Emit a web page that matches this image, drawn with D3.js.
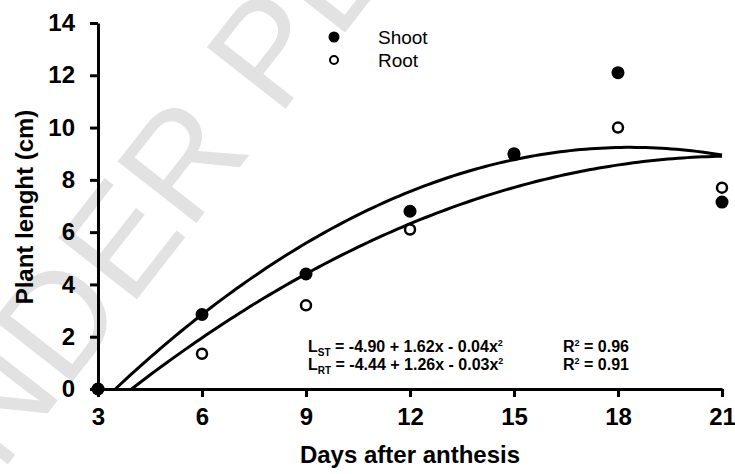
<!DOCTYPE html>
<html>
<head>
<meta charset="utf-8">
<script src="https://cdn.jsdelivr.net/npm/d3@7"></script>
<style>
  html, body { margin: 0; padding: 0; background: #fff; }
  svg { display: block; font-family: Arial, "Liberation Sans", sans-serif; }
</style>
</head>
<body>
<svg id="chart" width="735" height="474"></svg>
<script>
// ---- data ----
const days = [3, 6, 9, 12, 15, 18, 21];
const shootValues = [0, 2.85, 4.4, 6.8, 9.0, 12.1, 7.15];
const rootValues = [0, 1.35, 3.2, 6.1, 8.95, 10.0, 7.7];
const xTicks = [3, 6, 9, 12, 15, 18, 21];
const yTicks = [0, 2, 4, 6, 8, 10, 12, 14];
// regression coefficients (a, b, c) of the drawn trend curves
const shootCoef = [-4.87, 1.538, -0.0419];
const rootCoef = [-4.52, 1.2555, -0.02935];
const shootEqText = [" = -4.90 + 1.62x - 0.04x", "R", " = 0.96"];
const rootEqText = [" = -4.44 + 1.26x - 0.03x", "R", " = 0.91"];
const legendLabels = ["Shoot", "Root"];

const svg = d3.select("#chart");

// watermark
svg.append("text")
  .attr("transform", "translate(-64,556) rotate(-52)")
  .attr("font-size", 145)
  .attr("fill", "#e2e2e2")
  .attr("font-family", "Arial, 'Liberation Sans', sans-serif")
  .text("UNDER PEER");

const x = d3.scaleLinear().domain([3, 21]).range([98, 722]);
const y = d3.scaleLinear().domain([0, 14]).range([389, 23]);

// axes
const xAxis = svg.append("g")
  .attr("transform", `translate(0,${y(0)})`)
  .call(d3.axisBottom(x).tickValues(xTicks).tickSize(8).tickSizeOuter(0).tickPadding(11));
const yAxis = svg.append("g")
  .attr("transform", `translate(${x(3)},0)`)
  .call(d3.axisLeft(y).tickValues(yTicks).tickSize(8).tickSizeOuter(0).tickPadding(15));

[xAxis, yAxis].forEach(g => {
  g.select(".domain").attr("stroke", "#000").attr("stroke-width", 3);
  g.selectAll(".tick line").attr("stroke", "#000").attr("stroke-width", 3);
  g.selectAll(".tick text")
    .attr("fill", "#000")
    .attr("font-size", 24)
    .attr("font-weight", "bold")
    .attr("font-family", "Arial, 'Liberation Sans', sans-serif");
});

// axis titles
svg.append("text")
  .attr("x", 410).attr("y", 463)
  .attr("text-anchor", "middle")
  .attr("font-size", 24).attr("font-weight", "bold")
  .text("Days after anthesis");
svg.append("text")
  .attr("transform", "translate(33,207) rotate(-90)")
  .attr("text-anchor", "middle")
  .attr("font-size", 24).attr("font-weight", "bold")
  .text("Plant lenght (cm)");

// trend curves: from the zero crossing (right of day 3) up to day 21
function curvePoints(coef) {
  const [a, b, c] = coef;
  const disc = Math.sqrt(b * b - 4 * c * a);
  const roots = [(-b + disc) / (2 * c), (-b - disc) / (2 * c)].filter(r => r >= 3 && r <= 21);
  const s = roots.length ? Math.min(...roots) : 3;
  const pts = [];
  const n = 120;
  for (let i = 0; i <= n; i++) {
    const xv = s + (21 - s) * i / n;
    pts.push([xv, a + b * xv + c * xv * xv]);
  }
  return pts;
}
const line = d3.line().x(d => x(d[0])).y(d => y(Math.max(0, d[1])));
[shootCoef, rootCoef].forEach(coef => {
  svg.append("path")
    .attr("d", line(curvePoints(coef)))
    .attr("fill", "none")
    .attr("stroke", "#000")
    .attr("stroke-width", 3);
});

// points
svg.append("g").selectAll("circle")
  .data(days.map((d, i) => [d, rootValues[i]]))
  .join("circle")
  .attr("cx", d => x(d[0])).attr("cy", d => y(d[1]))
  .attr("r", 5).attr("fill", "#fff").attr("stroke", "#000").attr("stroke-width", 2.5);
svg.append("g").selectAll("circle")
  .data(days.map((d, i) => [d, shootValues[i]]))
  .join("circle")
  .attr("cx", d => x(d[0])).attr("cy", d => y(d[1]))
  .attr("r", 6.5).attr("fill", "#000");

// legend
svg.append("circle").attr("cx", 334).attr("cy", 37).attr("r", 5.5).attr("fill", "#000");
svg.append("circle").attr("cx", 334).attr("cy", 60).attr("r", 4).attr("fill", "#fff")
  .attr("stroke", "#000").attr("stroke-width", 2);
legendLabels.forEach((t, i) => {
  svg.append("text")
    .attr("x", 378).attr("y", 37 + i * 23)
    .attr("dy", "0.36em")
    .attr("font-size", 19)
    .text(t);
});

// equations
function eq(yPos, sub, parts) {
  const t = svg.append("text")
    .attr("x", 308).attr("y", yPos)
    .attr("font-size", 16).attr("font-weight", "bold");
  t.append("tspan").text("L");
  t.append("tspan").attr("font-size", 10).attr("dy", 4).text(sub);
  t.append("tspan").attr("dy", -4).text(parts[0]);
  t.append("tspan").attr("font-size", 9).attr("dy", -6).text("2");
  const r = svg.append("text")
    .attr("x", 563).attr("y", yPos)
    .attr("font-size", 16).attr("font-weight", "bold");
  r.append("tspan").text(parts[1]);
  r.append("tspan").attr("font-size", 9).attr("dy", -6).text("2");
  r.append("tspan").attr("dy", 6).text(parts[2]);
}
eq(352, "ST", shootEqText);
eq(370, "RT", rootEqText);
</script>
</body>
</html>
